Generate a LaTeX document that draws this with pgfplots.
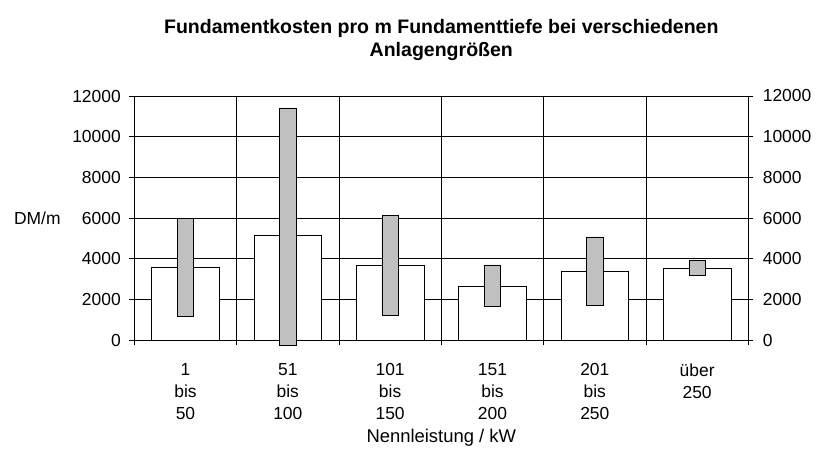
\documentclass[border=0pt]{standalone}
\usepackage{fontspec}
\setmainfont{Liberation Sans}
\usepackage{pgfplots}
\usepackage{pgfplotstable}
\pgfplotsset{compat=1.18}
\definecolor{rangegray}{RGB}{192,192,192}

% mean cost (white bar), lowest and highest cost (grey range bar), DM/m
\pgfplotstableread{
cat mean  min   max
1   3550  1150  5990
2   5130  -250  11410
3   3670  1230  6110
4   2640  1640  3690
5   3360  1690  5070
6   3520  3160  3900
}\costs

\begin{document}
\begin{tikzpicture}
\useasboundingbox (-134.3bp,-115bp) rectangle (685.7bp,340bp);
\pgfplotsset{
  base/.style={
    at={(0,0)}, anchor=south west,
    scale only axis, width=614bp, height=244bp,
    xmin=0.5, xmax=6.5, ymin=0, ymax=12000,
    ytick={0,2000,...,12000},
    tick align=outside, major tick length=5bp,
    tick style={black, line width=0.8bp},
    axis line style={black, line width=0.8bp},
    scaled y ticks=false,
    yticklabel style={font=\fontsize{17.5}{21}\selectfont,
      /pgf/number format/assume math mode=true,
      /pgf/number format/1000 sep={}},
    clip=false,
  }
}
\begin{axis}[base,
  ytick pos=left,
  xtick pos=bottom,
  yticklabel style={xshift=-5bp},
  xtick={0.5,1.5,...,6.5},
  xticklabels={},
  ymajorgrids, xmajorgrids,
  major grid style={black, line width=0.8bp},
  extra x ticks={1,2,3,4,5,6},
  extra x tick labels={{1\\bis\\50},{51\\bis\\100},{101\\bis\\150},{151\\bis\\200},{201\\bis\\250},{über\\250}},
  extra x tick style={grid=none, major tick length=0pt,
    xticklabel style={align=center, font=\fontsize{17.5}{22}\selectfont, yshift=-20bp}},
]
\addplot[ybar, bar width=67.7bp, bar shift=0pt, fill=white, draw=black, line width=0.8bp]
  table[x=cat, y=mean] {\costs};

\node[font=\fontsize{18.5}{22}\selectfont] at (rel axis cs:0.5,0) [yshift=-98bp] {Nennleistung / kW};
\node[font=\fontsize{17.5}{21}\selectfont] at (rel axis cs:0,0.5) [xshift=-97bp] {DM/m};
\node[align=center, font=\bfseries\fontsize{19.6}{24}\selectfont] at (rel axis cs:0.5,1) [yshift=56bp]
  {Fundamentkosten pro m Fundamenttiefe bei verschiedenen\\Anlagengrößen};
\end{axis}

\begin{axis}[base,
  axis x line=none,
  axis y line*=right,
  yticklabel style={xshift=6bp},
  ybar stacked, stack negative=on previous, bar width=16.3bp,
]
\addplot[draw=none, fill=none] table[x=cat, y=min] {\costs};
\addplot[fill=rangegray, draw=black, line width=0.8bp]
  table[x=cat, y expr=\thisrow{max}-\thisrow{min}] {\costs};
\end{axis}
\end{tikzpicture}
\end{document}
